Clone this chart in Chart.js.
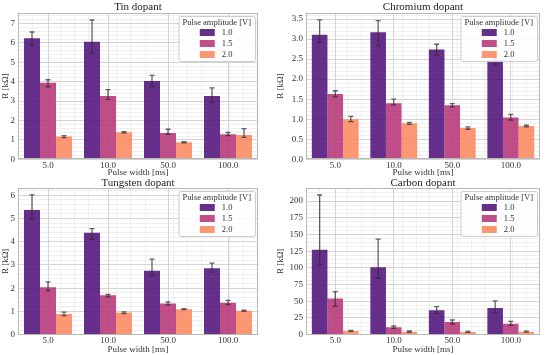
<!DOCTYPE html>
<html>
<head>
<meta charset="utf-8">
<script src="https://cdn.jsdelivr.net/npm/chart.js@4.4.0/dist/chart.umd.min.js"></script>
<style>
  body { margin: 0; background: #fff; }
  #wrap { position: relative; width: 550px; height: 355px; }
  canvas { position: absolute; }
</style>
</head>
<body>
<div id="wrap">
  <canvas id="tin" width="275" height="178" style="left:0;top:0"></canvas>
  <canvas id="chromium" width="275" height="178" style="left:275px;top:0"></canvas>
  <canvas id="tungsten" width="275" height="177" style="left:0;top:178px"></canvas>
  <canvas id="carbon" width="275" height="177" style="left:275px;top:178px"></canvas>
</div>
<script>
// categories and series
var pulseWidths = ['5.0', '10.0', '50.0', '100.0'];
var amplitudes = ['1.0', '1.5', '2.0'];

// R [kOhm], one row per amplitude; low/high are the error bar ends
var tinMean = [[6.24, 6.06, 4.04, 3.26], [3.95, 3.26, 1.36, 1.29], [1.17, 1.39, 0.88, 1.25]];
var tinLow  = [[5.88, 5.46, 3.73, 2.95], [3.74, 3.09, 1.29, 1.22], [1.12, 1.36, 0.85, 1.13]];
var tinHigh = [[6.56, 7.18, 4.33, 3.68], [4.10, 3.59, 1.55, 1.38], [1.22, 1.42, 0.91, 1.58]];

var chromiumMean = [[3.11, 3.17, 2.74, 2.47], [1.63, 1.40, 1.35, 1.04], [1.00, 0.90, 0.78, 0.83]];
var chromiumLow  = [[2.92, 2.83, 2.60, 2.35], [1.56, 1.36, 1.31, 0.98], [0.94, 0.87, 0.75, 0.81]];
var chromiumHigh = [[3.48, 3.46, 2.87, 2.53], [1.71, 1.50, 1.39, 1.12], [1.07, 0.92, 0.81, 0.85]];

var tungstenMean = [[5.36, 4.38, 2.75, 2.86], [2.04, 1.70, 1.34, 1.37], [0.89, 0.95, 1.10, 1.03]];
var tungstenLow  = [[4.96, 4.10, 2.54, 2.69], [1.90, 1.63, 1.28, 1.30], [0.82, 0.91, 1.08, 1.00]];
var tungstenHigh = [[6.01, 4.56, 3.25, 3.08], [2.27, 1.73, 1.41, 1.48], [0.97, 0.98, 1.12, 1.06]];

var carbonMean = [[127, 101, 36.6, 40], [54, 11, 19, 16.5], [5.5, 4.5, 4.2, 4.5]];
var carbonLow  = [[104.5, 84.5, 31.5, 33], [42.6, 9.5, 16, 14], [5, 3.5, 3.7, 3.8]];
var carbonHigh = [[209, 143, 42, 50.5], [64.5, 13, 22, 20], [6.5, 5.5, 4.8, 5.2]];

var barColors = ['rgba(81,18,124,0.88)', 'rgba(183,55,121,0.88)', 'rgba(252,137,97,0.88)'];
var FONT = "'Liberation Serif', serif";
var TEXT = '#333';

var panels = [
    { id: 'tin', title: 'Tin dopant', mean: tinMean, low: tinLow, high: tinHigh,
      yMax: 7.54, step: 1, minor: 0.2, dec: 0, top: 13, xh: 18.7, yw: 18, right: 17, titleY: 7 },
    { id: 'chromium', title: 'Chromium dopant', mean: chromiumMean, low: chromiumLow, high: chromiumHigh,
      yMax: 3.65, step: 0.5, minor: 0.1, dec: 1, top: 13, xh: 18.7, yw: 31, right: 10, titleY: 7 },
    { id: 'tungsten', title: 'Tungsten dopant', mean: tungstenMean, low: tungstenLow, high: tungstenHigh,
      yMax: 6.31, step: 1, minor: 0.2, dec: 0, top: 10, xh: 20.3, yw: 18, right: 17, titleY: 5 },
    { id: 'carbon', title: 'Carbon dopant', mean: carbonMean, low: carbonLow, high: carbonHigh,
      yMax: 219.5, step: 25, minor: 6.25, dec: 0, top: 10, xh: 20.3, yw: 31, right: 10, titleY: 5 }
];

// error bars from the low/high arrays, placed on the bar elements
var errorBars = {
    id: 'errorBars',
    afterDatasetsDraw: function (chart) {
        var ctx = chart.ctx, ys = chart.scales.y;
        ctx.save();
        ctx.strokeStyle = 'rgba(45,45,45,0.75)';
        ctx.lineWidth = 1.3;
        chart.data.datasets.forEach(function (ds, d) {
            chart.getDatasetMeta(d).data.forEach(function (bar, i) {
                var x = bar.x;
                var y1 = ys.getPixelForValue(ds.errLow[i]);
                var y2 = ys.getPixelForValue(ds.errHigh[i]);
                ctx.beginPath();
                ctx.moveTo(x, y1); ctx.lineTo(x, y2);
                ctx.moveTo(x - 2.5, y1); ctx.lineTo(x + 2.5, y1);
                ctx.moveTo(x - 2.5, y2); ctx.lineTo(x + 2.5, y2);
                ctx.stroke();
            });
        });
        ctx.restore();
    }
};

// frame, title and in-plot legend
var decorations = {
    id: 'decorations',
    afterDraw: function (chart) {
        var ctx = chart.ctx, a = chart.chartArea, p = chart.options.plugins.decorations;
        ctx.save();
        ctx.strokeStyle = '#b8b8b8';
        ctx.lineWidth = 1;
        ctx.strokeRect(Math.round(a.left) + 0.5, Math.round(a.top) + 0.5,
            Math.round(a.right - a.left) - 1, Math.round(a.bottom - a.top) - 1);

        ctx.fillStyle = '#222';
        ctx.font = '11px ' + FONT;
        ctx.textAlign = 'center';
        ctx.textBaseline = 'middle';
        ctx.fillText(p.title, (a.left + a.right) / 2, p.titleY);

        ctx.font = '8.5px ' + FONT;
        var titleText = 'Pulse amplitude [V]';
        var w = ctx.measureText(titleText).width + 8;
        var right = a.right - 3, top = a.top + 3, left = right - w, h = 45;
        ctx.fillStyle = 'rgba(255,255,255,0.85)';
        ctx.strokeStyle = '#cccccc';
        ctx.beginPath();
        ctx.roundRect(left + 0.5, top + 0.5, w, h, 2);
        ctx.fill();
        ctx.stroke();
        ctx.fillStyle = TEXT;
        ctx.fillText(titleText, left + w / 2, top + 7);
        var bx = left + w / 2 - 17;
        chart.data.datasets.forEach(function (ds, d) {
            var cy = top + 16.5 + 11 * d;
            ctx.fillStyle = ds.backgroundColor;
            ctx.fillRect(bx, cy - 3.5, 15, 7);
            ctx.fillStyle = TEXT;
            ctx.textAlign = 'left';
            ctx.fillText(ds.label, bx + 22, cy);
        });
        ctx.restore();
    }
};

function minorColor(c, step) {
    if (!c.tick) return 'rgba(0,0,0,0)';
    var v = c.tick.value / step;
    return Math.abs(v - Math.round(v)) < 1e-6 ? 'rgba(0,0,0,0)' : '#efefef';
}

panels.forEach(function (p) {
    var datasets = amplitudes.map(function (amp, d) {
        return {
            label: amp,
            data: p.mean[d],
            errLow: p.low[d],
            errHigh: p.high[d],
            xAxisID: 'x',
            yAxisID: 'y',
            backgroundColor: barColors[d],
            borderWidth: 0,
            categoryPercentage: 0.8,
            barPercentage: 1.0
        };
    });

    new Chart(document.getElementById(p.id), {
        type: 'bar',
        data: { labels: pulseWidths, datasets: datasets },
        plugins: [errorBars, decorations],
        options: {
            responsive: false,
            animation: false,
            layout: { padding: { top: p.top, right: p.right, left: 0, bottom: 0 } },
            plugins: {
                legend: { display: false },
                tooltip: { enabled: false },
                decorations: { title: p.title, titleY: p.titleY }
            },
            scales: {
                xMinor: {
                    type: 'linear', position: 'bottom', min: -0.5, max: 3.5,
                    ticks: { display: false, stepSize: 0.25 },
                    grid: {
                        drawTicks: false,
                        color: function (c) { return minorColor(c, 1); }
                    },
                    border: { display: false },
                    afterFit: function (s) { s.height = 0; }
                },
                yMinor: {
                    type: 'linear', position: 'left', min: 0, max: p.yMax,
                    ticks: { display: false, stepSize: p.minor, includeBounds: false },
                    grid: {
                        drawTicks: false,
                        color: function (c) { return minorColor(c, p.step); }
                    },
                    border: { display: false },
                    afterFit: function (s) { s.width = 0; }
                },
                x: {
                    type: 'category',
                    offset: true,
                    grid: { offset: false, color: '#d4d4d4', drawTicks: false },
                    border: { display: false },
                    ticks: { font: { family: FONT, size: 9 }, color: TEXT, padding: 1, maxRotation: 0 },
                    title: { display: true, text: 'Pulse width [ms]', font: { family: FONT, size: 9 }, color: TEXT, padding: 0 },
                    afterFit: function (s) { s.height = p.xh; }
                },
                y: {
                    min: 0, max: p.yMax,
                    grid: { color: '#d4d4d4', drawTicks: false },
                    border: { display: false },
                    ticks: {
                        stepSize: p.step, includeBounds: false, padding: 3,
                        font: { family: FONT, size: 9 }, color: TEXT,
                        callback: function (v) { return v.toFixed(p.dec); }
                    },
                    title: { display: true, text: 'R [kΩ]', font: { family: FONT, size: 9 }, color: TEXT, padding: 0 },
                    afterFit: function (s) { s.width = p.yw; }
                }
            }
        }
    });
});
</script>
</body>
</html>
